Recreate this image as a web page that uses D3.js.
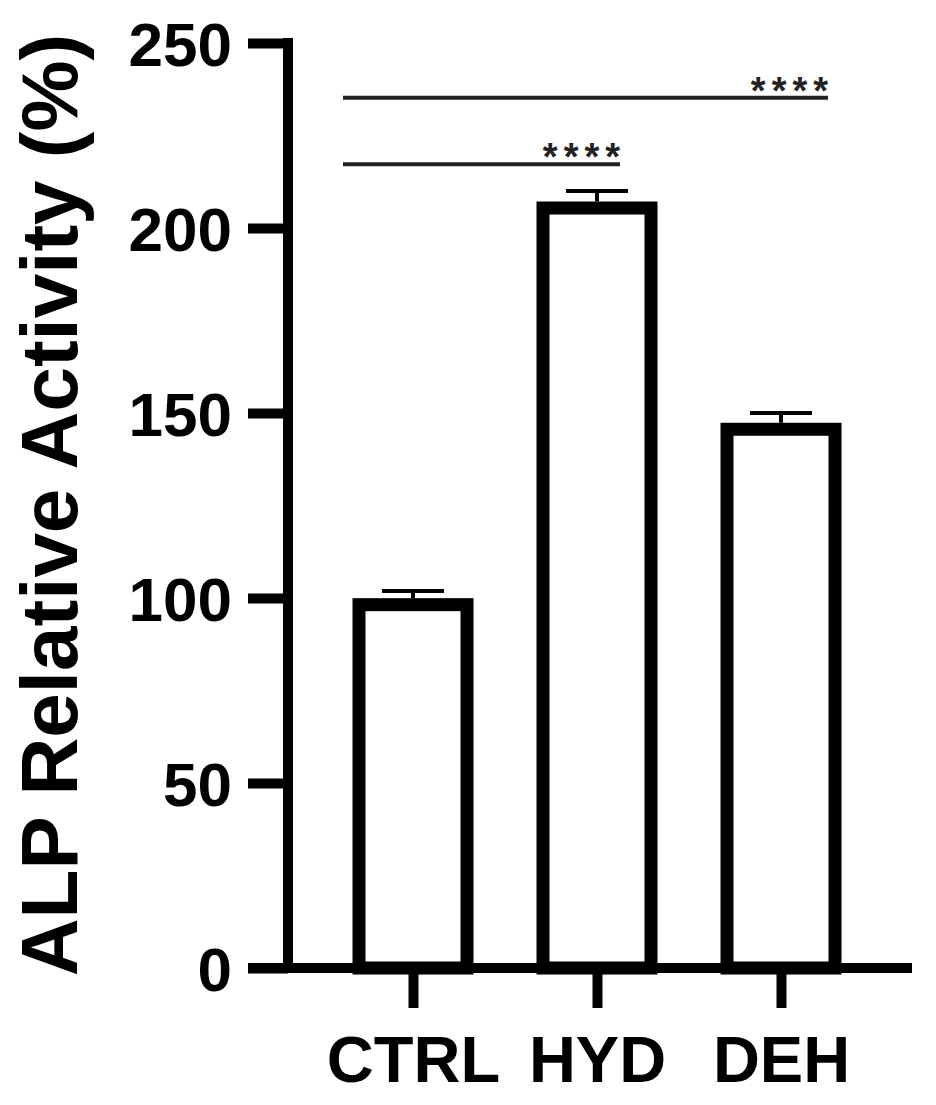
<!DOCTYPE html>
<html>
<head>
<meta charset="utf-8">
<script src="https://cdn.jsdelivr.net/npm/d3@7"></script>
<style>
  html, body { margin: 0; padding: 0; background: #fff; }
  svg text { font-family: "Liberation Sans", Arial, sans-serif; font-weight: bold; }
</style>
</head>
<body>
<div id="chart"></div>
<script>
// data
var categories = ["CTRL", "HYD", "DEH"];
var means = [98.2, 205.4, 145.6];
var errors = [3.7, 4.6, 4.4];
var yTicks = [0, 50, 100, 150, 200, 250];
var comparisons = [
  { from: "CTRL", to: "DEH", y: 235.2, label: "****", endOffset: 47 },
  { from: "CTRL", to: "HYD", y: 217.2, label: "****", endOffset: 23 }
];

var width = 936, height = 1105;
var axisX = 288, axisY0 = 968, axisYTop = 43, axisRight = 912;
var lineW = 10, barStroke = 13, barW = 108, capHalf = 31;

var svg = d3.select("#chart").append("svg")
  .attr("width", width)
  .attr("height", height);

var y = d3.scaleLinear().domain([0, 250]).range([axisY0, axisYTop]);
var x = d3.scalePoint().domain(categories).range([413, 781]);

// bars
var bars = svg.append("g");
categories.forEach(function (c, i) {
  bars.append("rect")
    .attr("x", x(c) - barW / 2)
    .attr("y", y(means[i]))
    .attr("width", barW)
    .attr("height", y(0) - y(means[i]))
    .attr("fill", "#fff")
    .attr("stroke", "#000")
    .attr("stroke-width", barStroke);

  // error bar (upper only)
  bars.append("line")
    .attr("x1", x(c)).attr("x2", x(c))
    .attr("y1", y(means[i]) - barStroke / 2)
    .attr("y2", y(means[i] + errors[i]))
    .attr("stroke", "#000").attr("stroke-width", 4);
  bars.append("line")
    .attr("x1", x(c) - capHalf).attr("x2", x(c) + capHalf)
    .attr("y1", y(means[i] + errors[i]))
    .attr("y2", y(means[i] + errors[i]))
    .attr("stroke", "#000").attr("stroke-width", 4);
});

// y axis
var yAxis = d3.axisLeft(y).tickValues(yTicks).tickSize(40).tickPadding(16);
var gy = svg.append("g")
  .attr("transform", "translate(" + axisX + ",0)")
  .call(yAxis);
gy.select(".domain").remove();
gy.selectAll(".tick line").attr("stroke", "#000").attr("stroke-width", lineW);
gy.selectAll(".tick text")
  .attr("font-size", 62)
  .attr("fill", "#000")
  .attr("dy", "0.36em");
svg.append("line")
  .attr("x1", axisX).attr("x2", axisX)
  .attr("y1", axisYTop - lineW / 2).attr("y2", axisY0)
  .attr("stroke", "#000").attr("stroke-width", lineW);

// x axis
var xAxis = d3.axisBottom(x).tickSize(40).tickPadding(28);
var gx = svg.append("g")
  .attr("transform", "translate(0," + axisY0 + ")")
  .call(xAxis);
gx.select(".domain").remove();
gx.selectAll(".tick line").attr("stroke", "#000").attr("stroke-width", lineW);
gx.selectAll(".tick text")
  .attr("font-size", 65)
  .attr("fill", "#000")
  .attr("dy", "0.71em");
svg.append("line")
  .attr("x1", axisX - 40).attr("x2", axisRight)
  .attr("y1", axisY0).attr("y2", axisY0)
  .attr("stroke", "#000").attr("stroke-width", lineW);

// significance lines
comparisons.forEach(function (cmp) {
  var x1 = x(cmp.from) - 70;
  var x2 = x(cmp.to) + cmp.endOffset;
  svg.append("line")
    .attr("x1", x1).attr("x2", x2)
    .attr("y1", y(cmp.y)).attr("y2", y(cmp.y))
    .attr("stroke", "#222").attr("stroke-width", 4);
  svg.append("text")
    .attr("x", x2 + 6)
    .attr("y", y(cmp.y) + 6)
    .attr("text-anchor", "end")
    .attr("font-size", 38)
    .attr("letter-spacing", 6)
    .attr("fill", "#222")
    .text(cmp.label);
});

// y title
svg.append("text")
  .attr("transform", "translate(77,505) rotate(-90)")
  .attr("text-anchor", "middle")
  .attr("font-size", 80)
  .attr("fill", "#000")
  .text("ALP Relative Activity (%)");
</script>
</body>
</html>
